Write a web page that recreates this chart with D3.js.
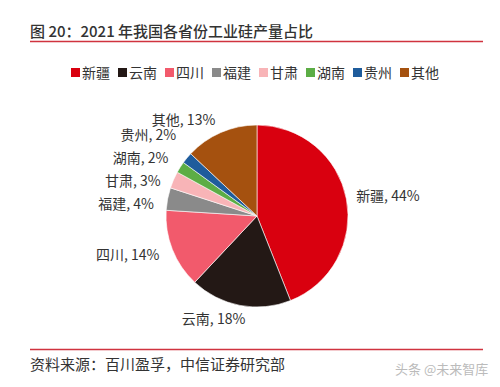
<!DOCTYPE html>
<html><head><meta charset="utf-8">
<script src="https://cdn.jsdelivr.net/npm/d3@7"></script>
<style>body{margin:0;background:#fff}svg{display:block}text{font-family:"Noto Sans CJK SC","Noto Sans",sans-serif}</style>
</head><body>
<svg id="c" width="500" height="387"></svg>
<script>
const categories = ["新疆","云南","四川","福建","甘肃","湖南","贵州","其他"];
const values = [44,18,14,4,3,2,2,13];
const colors = ["#d9000f","#231815","#f25a6c","#8a8a8a","#f8b4b7","#5cad45","#1f5c9c","#a5510f"];
const title = "图 20：2021 年我国各省份工业硅产量占比";
const source = "资料来源：百川盈孚，中信证券研究部";

const svg = d3.select("#c");
const cx = 257, cy = 216, r = 91;

svg.append("text").attr("x",30).attr("y",37).attr("font-size",15).attr("font-weight",500).attr("fill","#333").text(title);
svg.append("line").attr("x1",30).attr("x2",483).attr("y1",41.5).attr("y2",41.5).attr("stroke","#d0333f").attr("stroke-width",1.3);
svg.append("line").attr("x1",30).attr("x2",483).attr("y1",349.5).attr("y2",349.5).attr("stroke","#d0333f").attr("stroke-width",1.3);
svg.append("text").attr("x",30).attr("y",370).attr("font-size",15).attr("fill","#333").text(source);
svg.append("text").attr("x",395).attr("y",374).attr("font-size",13).attr("fill","#bbb").text("头条 @未来智库");

// legend
const lg = svg.append("g");
let lx = 71;
categories.forEach((c,i)=>{
  lg.append("rect").attr("x",lx).attr("y",68).attr("width",9).attr("height",9).attr("fill",colors[i]);
  const t = lg.append("text").attr("x",lx+11).attr("y",78).attr("font-size",14).attr("fill","#333").text(c);
  lx += 11 + t.node().getComputedTextLength() + 8;
});

const color = d3.scaleOrdinal().domain(categories).range(colors);
const pie = d3.pie().sort(null).value(d=>d.v);
const data = pie(categories.map((c,i)=>({c, v:values[i]})));
const arc = d3.arc().innerRadius(0).outerRadius(r);
const g = svg.append("g").attr("transform",`translate(${cx},${cy})`);
g.selectAll("path").data(data).join("path").attr("d",arc).attr("fill",d=>color(d.data.c)).attr("stroke","#fff").attr("stroke-width",0.6);

// labels
const R = 105;
const labels = data.map(d=>{
  const a = (d.startAngle+d.endAngle)/2;
  return {d, x: R*Math.sin(a), y: -R*Math.cos(a), left: Math.sin(a) < 0};
});
const left = labels.filter(l=>l.left && Math.abs(l.y) < 90).sort((a,b)=>a.y-b.y);
const gap = 23;
for (let it=0; it<200; it++){
  for (let i=1;i<left.length;i++){
    const dy = left[i].y - left[i-1].y;
    if (dy < gap){ const m=(gap-dy)/2; left[i].y += m; left[i-1].y -= m; }
  }
}
g.selectAll("text.lab").data(labels).join("text").attr("class","lab")
  .attr("x",l=>l.left? (l.y > 90 ? l.x+8 : l.x) : l.x-4).attr("y",l=>l.y).attr("dy","0.35em")
  .attr("text-anchor",l=>l.left?"end":"start").attr("font-size",14).attr("fill","#333")
  .text(l=>`${l.d.data.c}, ${l.d.data.v}%`);
</script>
</body></html>
